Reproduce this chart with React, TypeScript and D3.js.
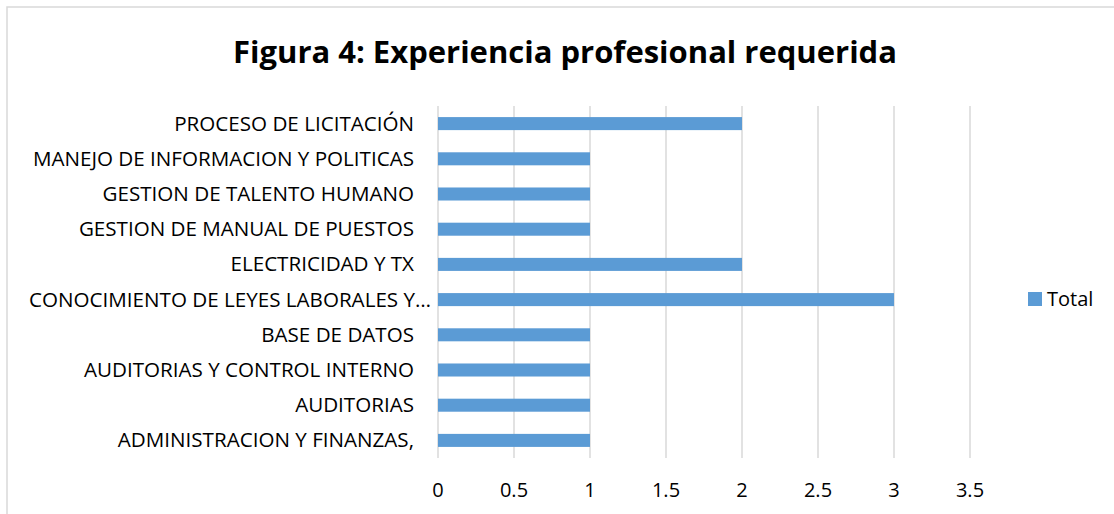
import React, { useEffect, useRef } from 'react';
import * as d3 from 'd3';

// categories listed bottom -> top, as they appear on the chart
const categories: string[] = [
  'ADMINISTRACION Y FINANZAS,',
  'AUDITORIAS',
  'AUDITORIAS Y CONTROL INTERNO',
  'BASE DE DATOS',
  'CONOCIMIENTO DE LEYES LABORALES Y…',
  'ELECTRICIDAD Y TX',
  'GESTION DE MANUAL DE PUESTOS',
  'GESTION DE TALENTO HUMANO',
  'MANEJO DE INFORMACION Y POLITICAS',
  'PROCESO DE LICITACIÓN',
];
const totals: number[] = [1, 1, 1, 1, 3, 2, 1, 1, 1, 2];
const xTicks: number[] = [0, 0.5, 1, 1.5, 2, 2.5, 3, 3.5];
const seriesName = 'Total';
const title = 'Figura 4: Experiencia profesional requerida';

const W = 1114;
const H = 514;
const FONT = '"Open Sans", sans-serif';
const BAR = '#5b9bd5';
const GRID = '#d9d9d9';

export default function App() {
  const ref = useRef<SVGSVGElement>(null);

  useEffect(() => {
    const svg = d3.select(ref.current);
    svg.selectAll('*').remove();

    // chart frame (runs off the right and bottom edges)
    svg.append('rect')
      .attr('x', 7).attr('y', 7)
      .attr('width', W + 20).attr('height', H + 20)
      .attr('fill', '#fff')
      .attr('stroke', GRID).attr('stroke-width', 1.5);

    svg.append('text')
      .attr('x', 565).attr('y', 63)
      .attr('text-anchor', 'middle')
      .attr('font-family', FONT)
      .attr('font-weight', 700)
      .attr('font-size', 31)
      .attr('fill', '#000')
      .text(title);

    const x = d3.scaleLinear().domain([0, 3.5]).range([438, 970]);
    const y = d3.scaleBand<string>()
      .domain(categories.slice().reverse())
      .range([106, 458])
      .paddingInner(0.63)
      .paddingOuter(0.315);

    const grid = svg.append('g');
    grid.selectAll('line')
      .data(xTicks)
      .join('line')
      .attr('x1', d => x(d)).attr('x2', d => x(d))
      .attr('y1', 106).attr('y2', 458)
      .attr('stroke', GRID).attr('stroke-width', 1.5);

    svg.append('g')
      .selectAll('rect')
      .data(categories)
      .join('rect')
      .attr('x', x(0))
      .attr('y', d => y(d)!)
      .attr('width', (d, i) => x(totals[i]) - x(0))
      .attr('height', y.bandwidth())
      .attr('fill', BAR);

    svg.append('g')
      .selectAll('text')
      .data(categories)
      .join('text')
      .attr('x', d => (d.endsWith('…') ? x(0) - 7 : x(0) - 24))
      .attr('y', d => y(d)! + y.bandwidth() / 2)
      .attr('dy', '0.34em')
      .attr('text-anchor', 'end')
      .attr('font-family', FONT)
      .attr('font-size', 20.6)
      .attr('fill', '#000')
      .text(d => d);

    svg.append('g')
      .selectAll('text')
      .data(xTicks)
      .join('text')
      .attr('x', d => x(d))
      .attr('y', 497)
      .attr('text-anchor', 'middle')
      .attr('font-family', FONT)
      .attr('font-size', 20)
      .attr('fill', '#000')
      .text(d => String(d));

    const legend = svg.append('g').attr('transform', 'translate(1028,292)');
    legend.append('rect').attr('width', 14).attr('height', 14).attr('fill', BAR);
    legend.append('text')
      .attr('x', 19).attr('y', 13.5)
      .attr('font-family', FONT)
      .attr('font-size', 20)
      .attr('fill', '#000')
      .text(seriesName);
  }, []);

  return (
    <div style={{ position: 'absolute', left: 0, top: 0 }}>
      <svg ref={ref} width={W} height={H} style={{ display: 'block' }} />
    </div>
  );
}
